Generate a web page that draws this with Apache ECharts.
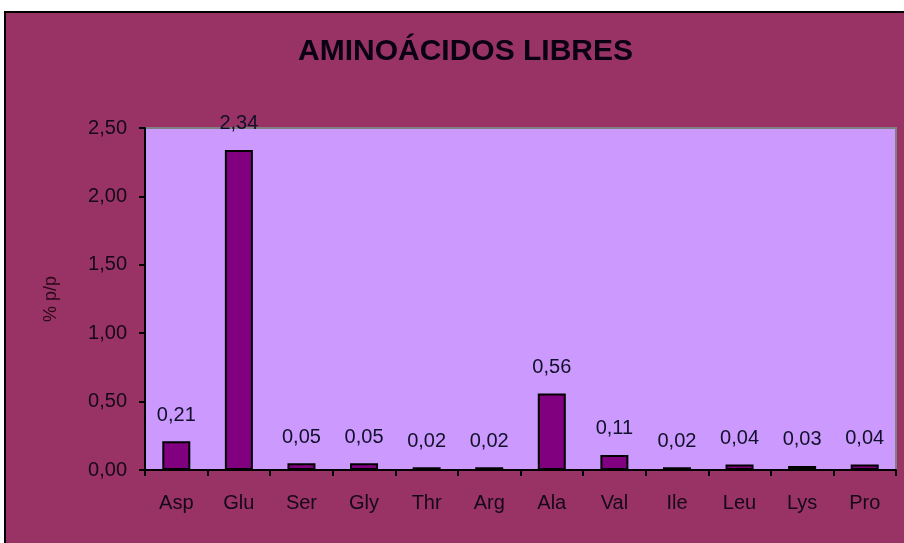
<!DOCTYPE html>
<html><head><meta charset="utf-8">
<script src="https://cdn.jsdelivr.net/npm/echarts@6/dist/echarts.min.js"></script>
<style>html,body{margin:0;padding:0;background:#fff}#c{width:904px;height:543px}</style>
</head><body><div id="c"></div>
<script>
const categories = ['Asp','Glu','Ser','Gly','Thr','Arg','Ala','Val','Ile','Leu','Lys','Pro'];
const values = [0.21, 2.34, 0.05, 0.05, 0.02, 0.02, 0.56, 0.11, 0.02, 0.04, 0.03, 0.04];
const yTicks = {min: 0, max: 2.5, interval: 0.5};
const titleText = 'AMINOÁCIDOS LIBRES';
const yName = '% p/p';

const FONT = 'Liberation Sans, Arial, sans-serif';
const fmt = v => v.toFixed(2).replace('.', ',');
const chart = echarts.init(document.getElementById('c'));
chart.setOption({
  animation: false,
  backgroundColor: '#ffffff',
  graphic: [{
    type: 'rect', z: -10, silent: true,
    shape: {x: 5, y: 12, width: 920, height: 560},
    style: {fill: '#993366', stroke: '#000', lineWidth: 2}
  }],
  title: {
    text: titleText, left: 293, top: 32,
    textStyle: {fontFamily: FONT, fontWeight: 'bold', fontSize: 30, color: '#0a0014'}
  },
  grid: {left: 145, top: 128, right: 8, bottom: 73, show: true, backgroundColor: '#cc99ff', borderColor: '#808080', borderWidth: 2},
  xAxis: {
    type: 'category', data: categories,
    axisLine: {lineStyle: {color: '#000', width: 2}},
    axisTick: {show: true, length: 6, lineStyle: {color: '#000', width: 2}},
    axisLabel: {margin: 23, fontSize: 20, color: '#140818', fontFamily: FONT}
  },
  yAxis: {
    type: 'value', min: yTicks.min, max: yTicks.max, interval: yTicks.interval,
    name: yName, nameLocation: 'middle', nameGap: 85, nameRotate: 90,
    nameTextStyle: {fontSize: 18, color: '#2a0818', fontFamily: FONT},
    axisLine: {show: true, lineStyle: {color: '#000', width: 2}},
    axisTick: {show: true, length: 6, lineStyle: {color: '#000', width: 2}},
    splitLine: {show: false},
    axisLabel: {margin: 18, fontSize: 20, color: '#140818', fontFamily: FONT, formatter: v => fmt(v)}
  },
  series: [{
    type: 'bar', data: values, barWidth: 28,
    itemStyle: {color: '#800080', borderColor: '#000', borderWidth: 2},
    label: {show: true, position: 'top', distance: 16, fontSize: 20, color: '#10102a', fontFamily: FONT, formatter: p => fmt(p.value)}
  }]
});
</script></body></html>
